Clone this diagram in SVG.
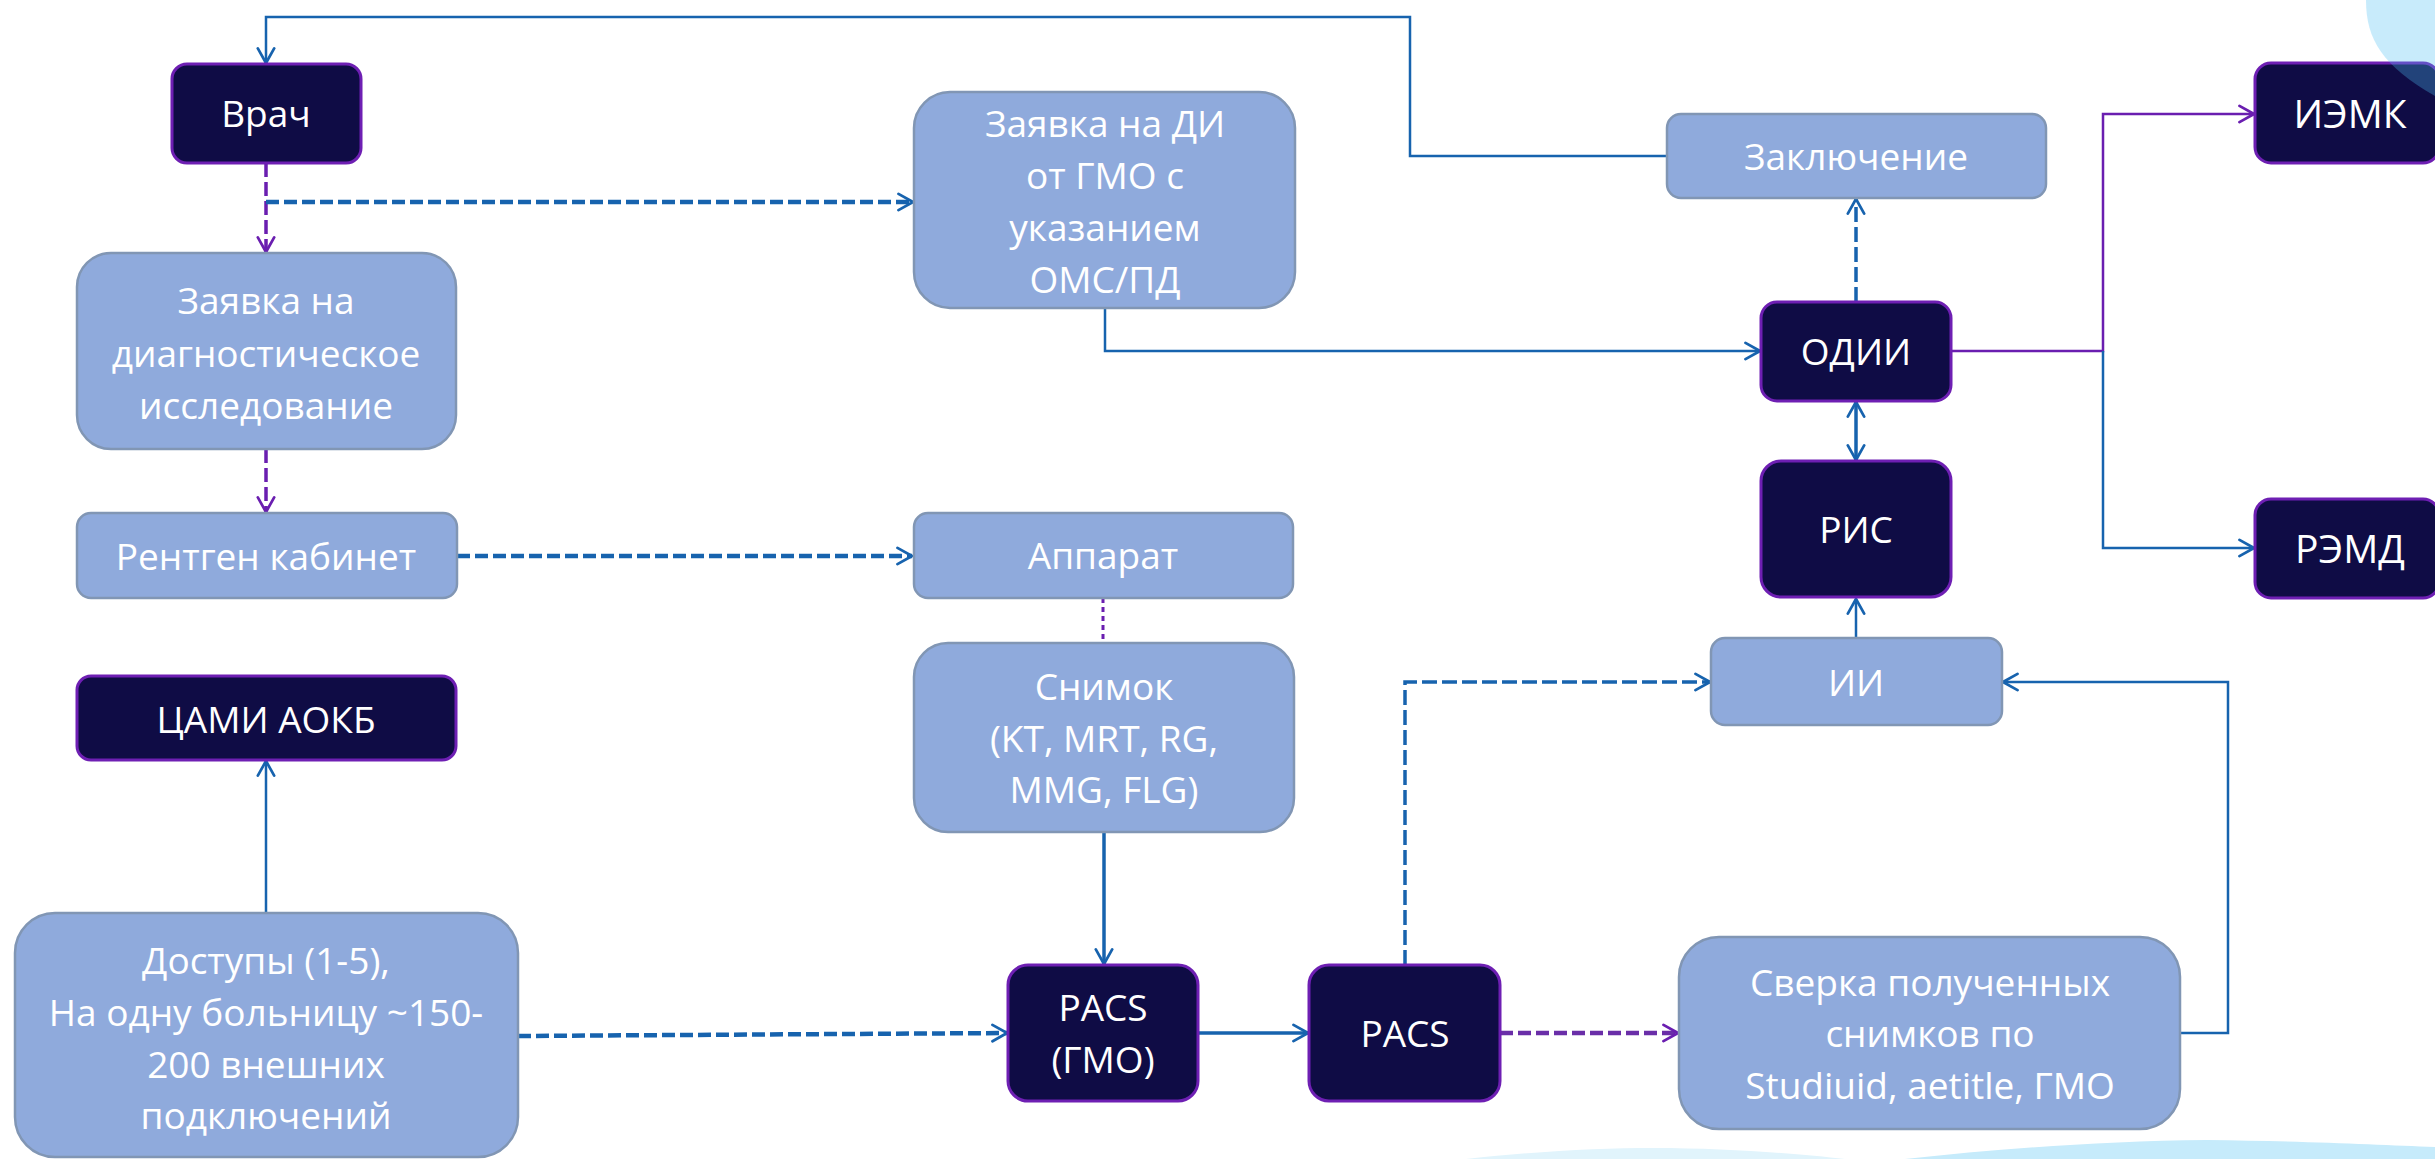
<svg xmlns="http://www.w3.org/2000/svg" width="2435" height="1159" viewBox="0 0 2435 1159">
<defs>
<style>
.lt{fill:#8faadc;stroke:#8196b4;stroke-width:2.5}
.dk{fill:#0f0c45;stroke:#6e1fb3;stroke-width:3}
text{font-family:"Open Sans","Noto Sans","DejaVu Sans",sans-serif;font-size:37px;fill:#ffffff;text-anchor:middle}
.b{fill:none;stroke:#1763ae;stroke-width:2.5}
.bt{fill:none;stroke:#1763ae;stroke-width:3.5}
.bd{fill:none;stroke:#1763ae;stroke-width:4.5;stroke-dasharray:13 5}
.bdv{fill:none;stroke:#1763ae;stroke-width:3.5;stroke-dasharray:15 5}
.p{fill:none;stroke:#6a1eb0;stroke-width:2.5}
.pd{fill:none;stroke:#6a1eb0;stroke-width:3.5;stroke-dasharray:14 5}
.pdh{fill:none;stroke:#6a2ea8;stroke-width:4.5;stroke-dasharray:13 5}
.pdot{fill:none;stroke:#6a1eb0;stroke-width:3;stroke-dasharray:5 4}
</style>
<marker id="ab" viewBox="0 0 22 22" refX="19" refY="11" markerWidth="20" markerHeight="20" markerUnits="userSpaceOnUse" orient="auto-start-reverse">
<path d="M3,2 L19,11 L3,20" fill="none" stroke="#1763ae" stroke-width="3" stroke-linecap="round" stroke-linejoin="round"/>
</marker>
<marker id="ap" viewBox="0 0 22 22" refX="19" refY="11" markerWidth="20" markerHeight="20" markerUnits="userSpaceOnUse" orient="auto-start-reverse">
<path d="M3,2 L19,11 L3,20" fill="none" stroke="#6a1eb0" stroke-width="3" stroke-linecap="round" stroke-linejoin="round"/>
</marker>
</defs>
<rect x="0" y="0" width="2435" height="1159" fill="#ffffff"/>
<g id="background-waves">
<path d="M1466,1159 C1540,1151 1600,1148 1653,1148 C1730,1148 1800,1154 1845,1159 Z" fill="#e1f4fc"/>
<path d="M1905,1159 C2000,1149 2100,1141 2207,1140 C2300,1141 2380,1145 2435,1147 L2435,1159 Z" fill="#c6ebfb"/>
</g>
<g id="connectors">
<path class="b" d="M1667,156 H1410 V17 H266 V63" marker-end="url(#ab)"/>
<path class="pd" d="M266,163 V252" marker-end="url(#ap)"/>
<path class="bd" d="M266,202 H913" marker-end="url(#ab)"/>
<path class="pd" d="M266,449 V512" marker-end="url(#ap)"/>
<path class="bd" d="M457,556 H912" marker-end="url(#ab)"/>
<path class="pdot" d="M1103,598 V643"/>
<path class="bt" d="M1104,832 V964" marker-end="url(#ab)"/>
<path class="b" d="M266,913 V761" marker-end="url(#ab)"/>
<path class="bd" d="M518,1036 L1007,1033" marker-end="url(#ab)"/>
<path class="bt" d="M1198,1033 H1308" marker-end="url(#ab)"/>
<path class="pdh" d="M1500,1033 H1678" marker-end="url(#ap)"/>
<path class="b" d="M2160,1033 H2228 V682 H2003" marker-end="url(#ab)"/>
<path class="b" d="M2159,1015 L2165,1033" stroke="#2a4f8f"/>
<path class="bdv" d="M1405,965 V682 H1710" marker-end="url(#ab)"/>
<path class="b" d="M1856,638 V599" marker-end="url(#ab)"/>
<path class="bt" d="M1856,402 V460" marker-start="url(#ab)" marker-end="url(#ab)"/>
<path class="bdv" d="M1856,302 V199" marker-end="url(#ab)"/>
<path class="b" d="M1105,308 V351 H1760" marker-end="url(#ab)"/>
<path class="p" d="M1951,351 H2103 V114 H2254" marker-end="url(#ap)"/>
<path class="b" d="M2103,351 V548 H2254" marker-end="url(#ab)"/>
</g>
<g id="node-vrach"><rect class="dk" x="172" y="64" width="189" height="99" rx="15"/><text x="266" y="127">Врач</text></g>
<g id="node-zayavka-diag"><rect class="lt" x="77" y="253" width="379" height="196" rx="34"/><text x="266" y="314">Заявка на</text><text x="266" y="367">диагностическое</text><text x="266" y="419">исследование</text></g>
<g id="node-rentgen"><rect class="lt" x="77" y="513" width="380" height="85" rx="14"/><text x="266" y="570">Рентген кабинет</text></g>
<g id="node-tsami"><rect class="dk" x="77" y="676" width="379" height="84" rx="14"/><text x="266" y="733">ЦАМИ АОКБ</text></g>
<g id="node-dostupy"><rect class="lt" x="15" y="913" width="503" height="244" rx="40"/><text x="266" y="974">Доступы (1-5),</text><text x="266" y="1026">На одну больницу ~150-</text><text x="266" y="1078">200 внешних</text><text x="266" y="1129">подключений</text></g>
<g id="node-zayavka-di"><rect class="lt" x="914" y="92" width="381" height="216" rx="36"/><text x="1105" y="137">Заявка на ДИ</text><text x="1105" y="189">от ГМО с</text><text x="1105" y="241">указанием</text><text x="1105" y="293">ОМС/ПД</text></g>
<g id="node-apparat"><rect class="lt" x="914" y="513" width="379" height="85" rx="14"/><text x="1103" y="569">Аппарат</text></g>
<g id="node-snimok"><rect class="lt" x="914" y="643" width="380" height="189" rx="34"/><text x="1104" y="700">Снимок</text><text x="1104" y="752">(KT, MRT, RG,</text><text x="1104" y="803">MMG, FLG)</text></g>
<g id="node-pacs-gmo"><rect class="dk" x="1008" y="965" width="190" height="136" rx="20"/><text x="1103" y="1021">PACS</text><text x="1103" y="1073">(ГМО)</text></g>
<g id="node-pacs"><rect class="dk" x="1309" y="965" width="191" height="136" rx="20"/><text x="1405" y="1047">PACS</text></g>
<g id="node-sverka"><rect class="lt" x="1679" y="937" width="501" height="192" rx="40"/><text x="1930" y="996">Сверка полученных</text><text x="1930" y="1047">снимков по</text><text x="1930" y="1099">Studiuid, aetitle, ГМО</text></g>
<g id="node-ii"><rect class="lt" x="1711" y="638" width="291" height="87" rx="14"/><text x="1856" y="696">ИИ</text></g>
<g id="node-ris"><rect class="dk" x="1761" y="461" width="190" height="136" rx="20"/><text x="1856" y="543">РИС</text></g>
<g id="node-odii"><rect class="dk" x="1761" y="302" width="190" height="99" rx="16"/><text x="1856" y="365">ОДИИ</text></g>
<g id="node-zakl"><rect class="lt" x="1667" y="114" width="379" height="84" rx="14"/><text x="1856" y="170">Заключение</text></g>
<g id="node-iemk"><rect class="dk" x="2255" y="63" width="184" height="100" rx="16"/><text x="2350" y="128" style="font-size:39px">ИЭМК</text></g>
<g id="node-remd"><rect class="dk" x="2255" y="499" width="184" height="99" rx="16"/><text x="2350" y="563" style="font-size:39px">РЭМД</text></g>
<g id="decor-corner"><path d="M2366,0 C2366,40 2383,66 2435,96 L2435,0 Z" fill="#4dbef2" fill-opacity="0.31"/></g>
</svg>
